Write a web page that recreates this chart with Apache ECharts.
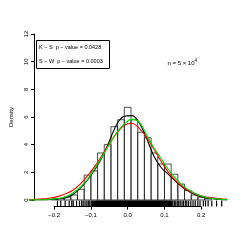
<!DOCTYPE html>
<html><head><meta charset="utf-8">
<script src="https://cdn.jsdelivr.net/npm/echarts@6/dist/echarts.min.js"></script>
<style>html,body{margin:0;padding:0;background:#fff}#c{width:242px;height:242px}</style>
</head><body><div id="c"></div>
<script>
// histogram bins (edges) and heights (density)
var binEdges = [-0.2102,-0.192,-0.1738,-0.1556,-0.1374,-0.1192,-0.101,-0.0828,-0.0646,-0.0464,-0.0282,-0.010,0.0082,0.0264,0.0446,0.0628,0.081,0.0992,0.1174,0.1356,0.1538,0.172,0.1902,0.2084,0.2266];
var binHeights = [0.05,0.12,0.22,0.36,0.77,1.8,2.1,3.4,4.0,5.3,5.8,6.7,5.8,4.9,4.5,3.4,2.6,2.6,1.86,1.15,0.68,0.36,0.2,0.1];
// density curves
var curveX = [-0.27,-0.25,-0.23,-0.21,-0.19,-0.17,-0.15,-0.13,-0.11,-0.09,-0.07,-0.05,-0.03,-0.01,0.01,0.03,0.05,0.07,0.09,0.11,0.13,0.15,0.17,0.19,0.21,0.23,0.25,0.27];
var redY   = [0.02,0.04,0.08,0.14,0.26,0.45,0.7,1.15,1.75,2.45,3.25,4.1,4.85,5.4,5.55,5.2,4.55,3.7,2.8,2.0,1.4,0.92,0.6,0.37,0.23,0.15,0.09,0.05];
var greenY = [0.0,0.01,0.02,0.05,0.1,0.23,0.5,0.92,1.5,2.3,3.15,4.05,4.9,5.5,5.83,5.65,4.75,3.8,3.0,2.2,1.55,1.02,0.66,0.38,0.2,0.1,0.05,0.02];
var blackY = [0.0,0.01,0.02,0.04,0.08,0.15,0.4,0.85,1.45,2.2,3.1,4.3,5.5,6.05,6.1,5.6,4.5,3.2,2.35,1.85,1.35,0.88,0.55,0.3,0.16,0.09,0.04,0.01];
// rug positions
var rugX = [-0.192,-0.183,-0.171,-0.160,-0.153,-0.149,-0.140,-0.132,-0.126,-0.122,-0.117,-0.112,-0.108,-0.104,-0.100,-0.097,-0.094,-0.091,
-0.088,-0.085,-0.083,-0.080,-0.078,-0.075,-0.072,-0.070,-0.067,-0.065,-0.062,-0.060,-0.057,-0.055,-0.052,-0.050,-0.047,-0.045,-0.042,-0.040,-0.037,-0.035,-0.032,-0.030,-0.027,-0.025,-0.022,-0.020,-0.017,-0.015,-0.012,-0.010,-0.007,-0.005,-0.002,0.000,0.003,0.005,0.008,0.010,0.013,0.015,0.018,0.020,0.023,0.025,0.028,0.030,0.033,0.035,0.038,0.040,0.043,0.045,0.048,0.050,0.053,0.055,0.058,0.060,0.063,0.065,0.068,0.070,0.073,0.075,0.078,0.080,0.083,0.085,0.088,0.090,0.093,0.095,0.098,0.100,0.103,0.106,0.109,0.112,0.115,0.118,
0.122,0.126,0.130,0.134,0.138,0.142,0.147,0.151,0.156,0.160,0.165,0.171,0.177,0.183,0.190,0.196,
0.205,0.211,0.218,0.228,0.241,0.255];
var xTicks = [-0.2,-0.1,0.0,0.1,0.2];
var yTicks = [0,2,4,6,8,10,12];
var legendLines = ['K \u2212 S  p \u2212 value = 0.0428','S \u2212 W  p \u2212 value = 0.0003'];
var nLabel = 'n = 5 \u00d7 10';
var nExp = '4';

var FONT = 'Liberation Sans';
var chart = echarts.init(document.getElementById('c'), null, {renderer:'canvas'});

var bins = [];
for (var i=0;i<binHeights.length;i++) bins.push([binEdges[i], binEdges[i+1], binHeights[i]]);
function pts(ys){ return curveX.map(function(x,i){return [x, ys[i]];}); }

var plotTop = 27.4, plotH = 179.2;
var option = {
  animation:false,
  grid:[
    {left:28, width:200, top:plotTop, height:plotH},
    {left:54.1, width:147, top:plotTop, height:plotH},
    {left:28, width:200, top:34, height:166}
  ],
  xAxis:[
    {gridIndex:0, type:'value', min:-0.2721, max:0.2721, show:false},
    {gridIndex:1, type:'value', min:-0.2, max:0.2, interval:0.1, position:'bottom',
     axisLine:{show:true, lineStyle:{color:'#000', width:1}},
     axisTick:{show:true, length:3, lineStyle:{color:'#000'}},
     splitLine:{show:false},
     axisLabel:{show:true, fontFamily:FONT, fontSize:6, color:'#000', margin:6,
       formatter:function(v){ var s = Math.abs(v)<1e-9 ? '0.0' : v.toFixed(1); return s.replace('-','\u2212'); }}},
    {gridIndex:2, type:'value', min:0, max:1, show:false}
  ],
  yAxis:[
    {gridIndex:0, type:'value', min:-0.48, max:12.48, show:false},
    {gridIndex:1, type:'value', min:0, max:1, show:false},
    {gridIndex:2, type:'value', min:0, max:12, interval:2, position:'left',
     axisLine:{show:true, lineStyle:{color:'#000', width:1}},
     axisTick:{show:true, length:3, lineStyle:{color:'#000'}},
     splitLine:{show:false},
     axisLabel:{show:true, fontFamily:FONT, fontSize:6, color:'#000', margin:5, rotate:90},
     name:'Density', nameLocation:'middle', nameGap:20, nameRotate:90,
     nameTextStyle:{fontFamily:FONT, fontSize:6, color:'#000'}}
  ],
  series:[
    {type:'custom', xAxisIndex:0, yAxisIndex:0, data:bins, encode:{x:[0,1], y:2}, clip:false,
     renderItem:function(params, api){
       var p0 = api.coord([api.value(0), 0]);
       var p1 = api.coord([api.value(1), api.value(2)]);
       return {type:'rect', shape:{x:p0[0], y:p1[1], width:p1[0]-p0[0], height:p0[1]-p1[1]},
         style:{fill:'none', stroke:'#222', lineWidth:0.8}};
     }},
    {type:'line', xAxisIndex:0, yAxisIndex:0, data:pts(blackY), smooth:0.4, showSymbol:false, lineStyle:{color:'#000', width:1.1}},
    {type:'line', xAxisIndex:0, yAxisIndex:0, data:pts(redY), smooth:0.4, showSymbol:false, lineStyle:{color:'#ff0000', width:1.1}},
    {type:'line', xAxisIndex:0, yAxisIndex:0, data:pts(greenY), smooth:0.4, showSymbol:false, lineStyle:{color:'#00e000', width:1.1}},
    {type:'custom', xAxisIndex:0, yAxisIndex:0, data:rugX.map(function(x){return [x];}), encode:{x:0}, clip:false,
     renderItem:function(params, api){
       var p = api.coord([api.value(0), -0.48]);
       var core = api.value(0) > -0.09 && api.value(0) < 0.12;
       return {type:'line', shape:{x1:p[0], y1:p[1], x2:p[0], y2:p[1]-6},
         style:{stroke:'#000', lineWidth: core ? 2 : 1.2}};
     }}
  ],
  graphic:[
    {type:'rect', shape:{x:36.5, y:40.5, width:73, height:28}, style:{fill:'none', stroke:'#000', lineWidth:1}},
    {type:'text', x:39, y:47, style:{text:legendLines[0], font:'5.5px "Liberation Sans"', fill:'#000', verticalAlign:'middle'}},
    {type:'text', x:39, y:61, style:{text:legendLines[1], font:'5.5px "Liberation Sans"', fill:'#000', verticalAlign:'middle'}},
    {type:'text', x:167.5, y:63, style:{text:'{a|'+nLabel+'}{b|'+nExp+'}', verticalAlign:'middle',
      rich:{a:{fontFamily:FONT, fontSize:6, fill:'#000'}, b:{fontFamily:FONT, fontSize:4.5, fill:'#000', verticalAlign:'top', padding:[0,0,4,0]}}}}
  ]
};
chart.setOption(option);
</script></body></html>
